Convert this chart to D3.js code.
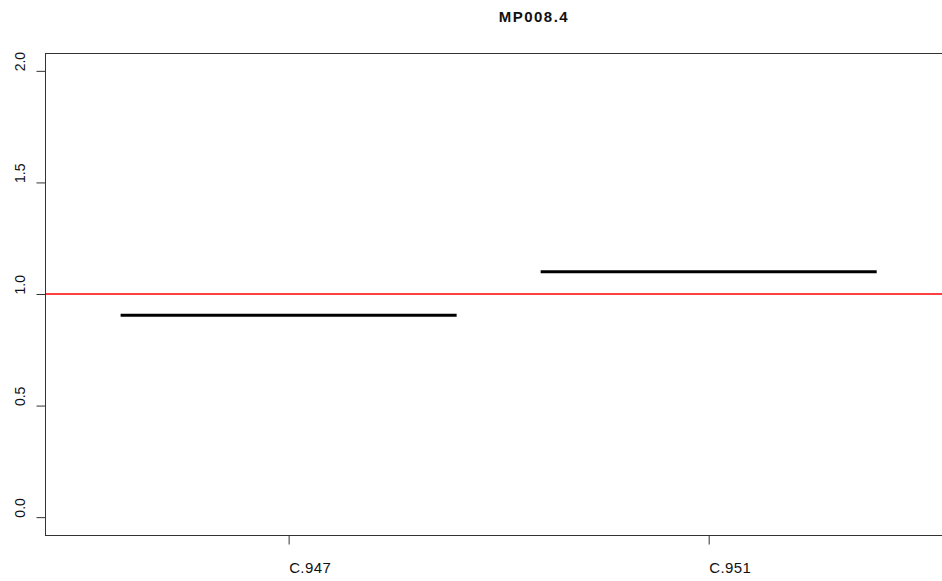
<!DOCTYPE html>
<html>
<head>
<meta charset="utf-8">
<script src="https://cdn.jsdelivr.net/npm/d3@7"></script>
<style>
  html, body { margin: 0; padding: 0; background: #fff; }
  svg { display: block; font-family: "Liberation Sans", Arial, sans-serif; }
</style>
</head>
<body>
<script>
// Group labels and the median of each group
const categories = ["C.947", "C.951"];
const medians = [0.905, 1.10];
const yTicks = [0.0, 0.5, 1.0, 1.5, 2.0];
const referenceLevel = 1.0;
const title = "MP008.4";

const W = 942, H = 581;
const svg = d3.select("body").append("svg").attr("width", W).attr("height", H);

// Plot region (R-style 4% padding around the data range)
const plotLeft = 45, plotTop = 53, plotBottom = 535;
const x = d3.scaleLinear().domain([0.42, categories.length + 0.58]).range([plotLeft, 952.3]);
const y = d3.scaleLinear().domain([-0.08, 2.08]).range([plotBottom, plotTop]);
const boxHalf = 0.4;

// Reference line
svg.append("line")
  .attr("x1", x.range()[0]).attr("x2", x.range()[1])
  .attr("y1", y(referenceLevel)).attr("y2", y(referenceLevel))
  .attr("stroke", "#ff0000").attr("stroke-width", 1.3);

// Medians
svg.selectAll("line.median").data(medians).enter().append("line")
  .attr("class", "median")
  .attr("x1", (d, i) => x(i + 1 - boxHalf))
  .attr("x2", (d, i) => x(i + 1 + boxHalf))
  .attr("y1", d => y(d)).attr("y2", d => y(d))
  .attr("stroke", "#000").attr("stroke-width", 3);

// Frame
svg.append("rect")
  .attr("x", plotLeft + 0.5).attr("y", plotTop + 0.5)
  .attr("width", x.range()[1] - plotLeft).attr("height", plotBottom - plotTop)
  .attr("fill", "none").attr("stroke", "#333").attr("stroke-width", 1);

// Y axis
const yAxis = d3.axisLeft(y).tickValues(yTicks).tickFormat(d3.format(".1f")).tickSize(9).tickPadding(0);
const gy = svg.append("g").attr("transform", `translate(${plotLeft + 0.5},0)`).call(yAxis);
gy.select(".domain").remove();
gy.selectAll(".tick line").attr("stroke", "#333");
gy.selectAll(".tick text")
  .attr("x", null).attr("dy", null)
  .attr("transform", "translate(-20.5,0) rotate(-90)")
  .attr("text-anchor", "start")
  .attr("font-size", 14).attr("fill", "#111");

// X axis
const xAxis = d3.axisBottom(x).tickValues(categories.map((c, i) => i + 1))
  .tickFormat((d, i) => categories[i]).tickSize(9).tickPadding(0);
const gx = svg.append("g").attr("transform", `translate(0,${plotBottom + 0.5})`).call(xAxis);
gx.select(".domain").remove();
gx.selectAll(".tick line").attr("stroke", "#333");
gx.selectAll(".tick text")
  .attr("y", 37.5).attr("dy", null)
  .attr("text-anchor", "start")
  .attr("font-size", 15).attr("letter-spacing", 0.4).attr("fill", "#111");

// Title
svg.append("text")
  .attr("x", (plotLeft + x.range()[1]) / 2).attr("y", 22)
  .attr("text-anchor", "start")
  .attr("font-size", 15).attr("font-weight", "bold")
  .attr("letter-spacing", 1.5)
  .attr("fill", "#111")
  .text(title);
</script>
</body>
</html>
